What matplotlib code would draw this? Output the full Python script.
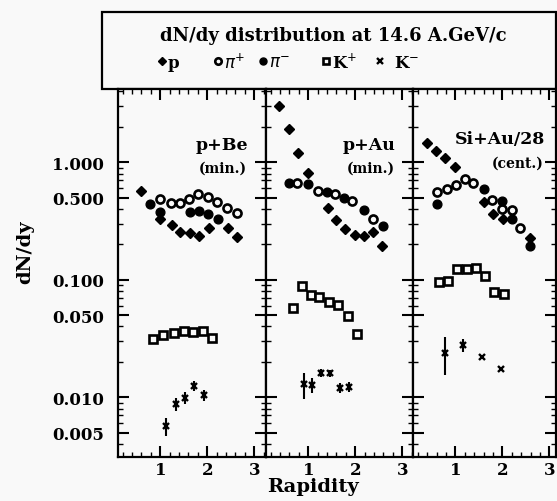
import numpy as np
import matplotlib.pyplot as plt
from matplotlib.ticker import FixedLocator, FixedFormatter, MultipleLocator, LogLocator, NullFormatter
from matplotlib.patches import Rectangle

# ---- data (rapidity, dN/dy) ----
# p+Be (min.)
pbe_p_x = [0.60, 0.99, 1.24, 1.43, 1.63, 1.82, 2.04, 2.45, 2.64]
pbe_p_y = [0.57, 0.33, 0.29, 0.255, 0.25, 0.236, 0.278, 0.274, 0.233]
pbe_pip_x = [0.99, 1.22, 1.42, 1.62, 1.81, 2.01, 2.21, 2.41, 2.64]
pbe_pip_y = [0.49, 0.454, 0.454, 0.484, 0.535, 0.507, 0.46, 0.411, 0.368]
pbe_pim_x = [0.79, 0.99, 1.63, 1.83, 2.02, 2.23]
pbe_pim_y = [0.44, 0.378, 0.378, 0.385, 0.361, 0.327]
pbe_kp_x = [0.85, 1.06, 1.30, 1.50, 1.70, 1.90, 2.11]
pbe_kp_y = [0.031, 0.034, 0.0355, 0.0367, 0.036, 0.0367, 0.032]
pbe_km_x = [1.13, 1.33, 1.53, 1.72, 1.93]
pbe_km_y = [0.0057, 0.0087, 0.0099, 0.0125, 0.0104]
pbe_km_err = [0.001, 0.0011, 0.0011, 0.0013, 0.0012]

# p+Au (min.)
pau_p_x = [0.38, 0.60, 0.79, 0.99, 1.41, 1.60, 1.79, 1.99, 2.19, 2.38, 2.56]
pau_p_y = [3.0, 1.91, 1.21, 0.81, 0.411, 0.321, 0.269, 0.240, 0.236, 0.255, 0.194]
pau_pip_x = [0.77, 1.20, 1.57, 1.94, 2.38]
pau_pip_y = [0.672, 0.570, 0.534, 0.469, 0.327]
pau_pim_x = [0.60, 0.99, 1.40, 1.77, 2.19, 2.60]
pau_pim_y = [0.672, 0.650, 0.563, 0.501, 0.393, 0.287]
pau_kp_x = [0.67, 0.86, 1.06, 1.23, 1.45, 1.64, 1.84, 2.04]
pau_kp_y = [0.058, 0.0886, 0.0743, 0.0719, 0.0652, 0.0607, 0.0492, 0.0344]
pau_km_x = [0.90, 1.09, 1.27, 1.47, 1.68, 1.86]
pau_km_y = [0.0129, 0.0127, 0.0162, 0.016, 0.0121, 0.0123]
pau_km_err = [0.0032, 0.0018, 0.0012, 0.0012, 0.0012, 0.0012]

# Si+Au/28 (cent.)
siau_p_x = [0.40, 0.59, 0.79, 0.99, 1.60, 1.81, 2.01, 2.59]
siau_p_y = [1.45, 1.25, 1.08, 0.91, 0.46, 0.36, 0.33, 0.226]
siau_pip_x = [0.62, 0.82, 1.01, 1.21, 1.38, 1.79, 1.99, 2.21, 2.38]
siau_pip_y = [0.559, 0.589, 0.637, 0.717, 0.672, 0.478, 0.398, 0.393, 0.278]
siau_pim_x = [0.60, 1.60, 1.99, 2.21, 2.59]
siau_pim_y = [0.439, 0.597, 0.469, 0.327, 0.194]
siau_kp_x = [0.66, 0.85, 1.03, 1.24, 1.43, 1.62, 1.83, 2.04]
siau_kp_y = [0.095, 0.098, 0.1245, 0.1245, 0.127, 0.108, 0.079, 0.075]
siau_km_x = [0.78, 1.17, 1.56, 1.97]
siau_km_y = [0.024, 0.028, 0.022, 0.0175]
siau_km_err = [0.0085, 0.0035, 0.0, 0.0]

panel_labels = [("p+Be", "(min.)"), ("p+Au", "(min.)"), ("Si+Au/28", "(cent.)")]
ytick_vals = [0.005, 0.01, 0.05, 0.1, 0.5, 1.0]
ytick_text = ["0.005", "0.010", "0.050", "0.100", "0.500", "1.000"]
xtick_vals = [1, 2, 3]

FONT = "DejaVu Serif"
BG = "#f9f9f9"

# marker styles per species
sty = {
    "p": dict(marker="D", ms=4.8, mfc="k", mec="k", mew=1.0),
    "pip": dict(marker="o", ms=5.8, mfc=BG, mec="k", mew=1.9),
    "pim": dict(marker="o", ms=6.3, mfc="k", mec="k", mew=1.0),
    "kp": dict(marker="s", ms=5.8, mfc=BG, mec="k", mew=1.9),
    "km": dict(marker="x", ms=5, mfc="k", mec="k", mew=1.7),
}

panels = [
    [("p", pbe_p_x, pbe_p_y, None), ("pip", pbe_pip_x, pbe_pip_y, None),
     ("pim", pbe_pim_x, pbe_pim_y, None), ("kp", pbe_kp_x, pbe_kp_y, None),
     ("km", pbe_km_x, pbe_km_y, pbe_km_err)],
    [("p", pau_p_x, pau_p_y, None), ("pip", pau_pip_x, pau_pip_y, None),
     ("pim", pau_pim_x, pau_pim_y, None), ("kp", pau_kp_x, pau_kp_y, None),
     ("km", pau_km_x, pau_km_y, pau_km_err)],
    [("p", siau_p_x, siau_p_y, None), ("pip", siau_pip_x, siau_pip_y, None),
     ("pim", siau_pim_x, siau_pim_y, None), ("kp", siau_kp_x, siau_kp_y, None),
     ("km", siau_km_x, siau_km_y, siau_km_err)],
]

W, H = 557, 502
fig = plt.figure(figsize=(W / 100, H / 100), dpi=100, facecolor=BG)

# overlay in pixel coords for the header box
ov = fig.add_axes([0, 0, 1, 1])
ov.set_xlim(0, W)
ov.set_ylim(H, 0)
ov.axis("off")
ov.add_patch(Rectangle((102, 13), 454, 77, fill=False, lw=1.6, ec="k"))
ov.text(333, 36, "dN/dy distribution at 14.6 A.GeV/c", ha="center", va="center",
        fontsize=13, fontweight="bold", family=FONT)
leg = [("p", 162, "p"), ("pip", 218, r"$\pi^{+}$"), ("pim", 263, r"$\pi^{-}$"),
       ("kp", 326, r"K$^{+}$"), ("km", 380, r"K$^{-}$")]
for key, lx, lab in leg:
    s = dict(sty[key])
    s["ms"] = s["ms"] * 0.8
    ov.plot([lx], [62], ls="none", **s)
    ov.text(lx + (14 if key == "km" else 6), 63, lab, ha="left", va="center",
            fontsize=12, fontweight="bold", family=FONT)

# panel pixel extents: left, width, x-range
px_left = [118, 266, 413]
px_w = [148, 147, 143]
x_hi = [3.25, 3.23, 3.14]
for i, series in enumerate(panels):
    ax = fig.add_axes([px_left[i] / W, 44 / H, px_w[i] / W, 368 / H])
    ax.set_facecolor(BG)
    ax.set_yscale("log")
    ax.set_xlim(0.1, x_hi[i])
    ax.set_ylim(0.0031, 4.2)
    for key, xs, ys, err in series:
        s = sty[key]
        if err is not None:
            ax.errorbar(xs, ys, yerr=err, ls="none", ecolor="k", elinewidth=1.5, capsize=0, **s)
        else:
            ax.plot(xs, ys, ls="none", **s)

    ax.yaxis.set_major_locator(FixedLocator(ytick_vals))
    ax.yaxis.set_minor_locator(LogLocator(base=10, subs=np.arange(2, 10)))
    ax.yaxis.set_minor_formatter(NullFormatter())
    if i == 0:
        ax.yaxis.set_major_formatter(FixedFormatter(ytick_text))
    else:
        ax.yaxis.set_major_formatter(NullFormatter())
    ax.xaxis.set_major_locator(FixedLocator(xtick_vals))
    ax.xaxis.set_minor_locator(MultipleLocator(0.2))
    ax.set_xticklabels([str(v) for v in xtick_vals])

    ax.tick_params(which="both", direction="in", top=True, right=True)
    ax.tick_params(which="major", length=8, width=1.5)
    ax.tick_params(which="minor", length=3.5, width=1.0)
    ax.tick_params(axis="x", which="major", pad=3)
    ax.tick_params(axis="y", which="major", pad=10)
    for lb in ax.get_xticklabels() + ax.get_yticklabels():
        lb.set_family(FONT)
        lb.set_fontweight("bold")
        lb.set_fontsize(12)
    for sp in ax.spines.values():
        sp.set_linewidth(1.6)

    name, sub = panel_labels[i]
    if i < 2:
        ax.text(0.70, 0.85, name, transform=ax.transAxes, ha="center", va="center",
                fontsize=12.5, fontweight="bold", family=FONT)
        ax.text(0.71, 0.785, sub, transform=ax.transAxes, ha="center", va="center",
                fontsize=10, fontweight="bold", family=FONT)
    else:
        ax.text(0.61, 0.865, name, transform=ax.transAxes, ha="center", va="center",
                fontsize=12.5, fontweight="bold", family=FONT)
        ax.text(0.73, 0.80, sub, transform=ax.transAxes, ha="center", va="center",
                fontsize=10, fontweight="bold", family=FONT)

fig.text(25 / W, 1 - 252 / H, "dN/dy", rotation=90, ha="center", va="center",
         fontsize=14, fontweight="bold", family=FONT)
fig.text(313 / W, 1 - 487 / H, "Rapidity", ha="center", va="center",
         fontsize=14, fontweight="bold", family=FONT)

fig.savefig("out.png", dpi=100, facecolor=BG)
